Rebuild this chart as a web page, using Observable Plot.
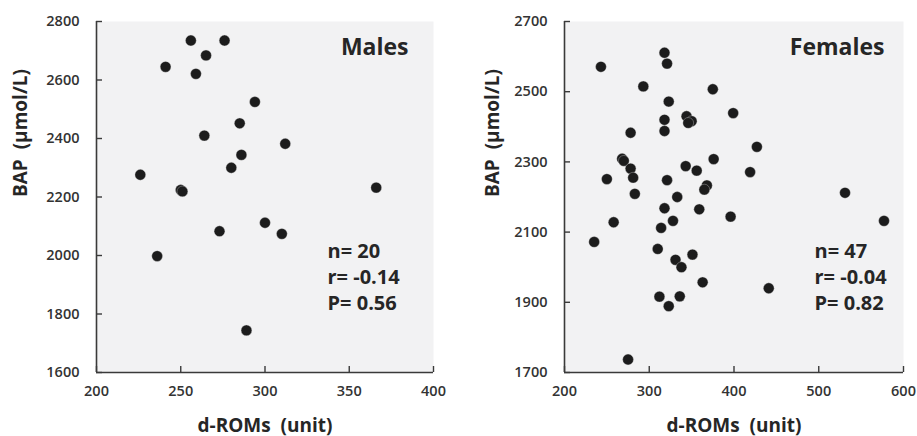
<!DOCTYPE html>
<html>
<head>
<meta charset="utf-8">
<script src="https://cdn.jsdelivr.net/npm/d3@7"></script>
<script src="https://cdn.jsdelivr.net/npm/@observablehq/plot@0.6"></script>
<style>
  body { margin: 0; background: #fff; }
  #row { display: flex; flex-direction: row; width: 917px; height: 436px; }
</style>
</head>
<body>
<div id="row"></div>
<script>
// ---- Data ----
const malesDROMs = [256, 276, 265, 241, 259, 294, 285, 264, 312, 286, 280, 226, 250, 251, 366, 300, 273, 310, 236, 289];
const malesBAP   = [2735, 2735, 2684, 2645, 2621, 2525, 2452, 2410, 2382, 2344, 2300, 2276, 2224, 2219, 2232, 2112, 2083, 2074, 1998, 1744];

const femalesDROMs = [243, 318, 321, 293, 375, 323, 399, 318, 344, 350, 346, 318, 278, 427, 268, 270, 376, 343, 278, 356, 419, 250, 281, 321, 368, 365, 283, 333, 531, 318, 359, 396, 258, 328, 577, 314, 235, 310, 351, 331, 338, 363, 441, 312, 336, 323, 275];
const femalesBAP   = [2571, 2611, 2580, 2515, 2507, 2472, 2439, 2420, 2430, 2416, 2411, 2388, 2383, 2343, 2309, 2303, 2308, 2288, 2281, 2275, 2271, 2251, 2255, 2248, 2233, 2221, 2209, 2200, 2212, 2168, 2165, 2144, 2128, 2132, 2132, 2112, 2072, 2052, 2036, 2021, 2000, 1957, 1940, 1916, 1917, 1889, 1737];

const malesXTicks = [200, 250, 300, 350, 400];
const malesYTicks = [1600, 1800, 2000, 2200, 2400, 2600, 2800];
const femalesXTicks = [200, 300, 400, 500, 600];
const femalesYTicks = [1700, 1900, 2100, 2300, 2500, 2700];

const malesTitle = "Males";
const femalesTitle = "Females";
const malesStats = ["n= 20", "r= -0.14", "P= 0.56"];
const femalesStats = ["n= 47", "r= -0.04", "P= 0.82"];
const xLabel = "d-ROMs\u00a0\u00a0(unit)";
const yLabel = "BAP\u00a0\u00a0(\u00b5mol/L)";

const FONT = "'Open Sans', 'DejaVu Sans', sans-serif";
const AXIS = "#3a3a3a";
const TEXT = "#333333";

function panel({xs, ys, xTicks, yTicks, title, stats, width, marginLeft, marginRight, titleDx, statsDx, yLabelDx}) {
  const pts = xs.map((x, i) => ({x, y: ys[i]}));
  const xDom = [xTicks[0], xTicks[xTicks.length - 1]];
  const yDom = [yTicks[0], yTicks[yTicks.length - 1]];
  return Plot.plot({
    width, height: 436,
    marginLeft, marginRight, marginTop: 21, marginBottom: 64,
    style: {fontFamily: FONT, background: "#fff", overflow: "visible"},
    x: {domain: xDom},
    y: {domain: yDom},
    marks: [
      Plot.frame({fill: "#f2f2f3", stroke: null}),
      Plot.ruleX([xDom[0]], {stroke: AXIS, strokeWidth: 1.6}),
      Plot.ruleY([yDom[0]], {stroke: AXIS, strokeWidth: 1.6}),
      Plot.axisX({ticks: xTicks, tickSize: -6, tickPadding: 19, stroke: AXIS, strokeWidth: 1.4,
        fontSize: 14.5, fontWeight: 600, fill: TEXT, label: null, tickFormat: d => String(d)}),
      Plot.axisY({ticks: yTicks, tickSize: -6, tickPadding: 23, stroke: AXIS, strokeWidth: 1.4,
        fontSize: 14.5, fontWeight: 600, fill: TEXT, label: null, tickFormat: d => String(d)}),
      Plot.dot(pts, {x: "x", y: "y", r: 5.4, fill: "#1c1c1c", stroke: "#d8d8d8", strokeWidth: 0.35}),
      Plot.text([title], {frameAnchor: "top-right", dx: titleDx, dy: 26, lineAnchor: "middle",
        fontSize: 23, fontWeight: 700, fill: "#262626"}),
      Plot.text([stats.join("\n")], {frameAnchor: "top-left", dx: statsDx, dy: 254, lineAnchor: "middle",
        textAnchor: "start", lineHeight: 1.32, fontSize: 20, fontWeight: 700, fill: "#262626"}),
      Plot.text([xLabel], {frameAnchor: "bottom", dy: 53, lineAnchor: "middle",
        fontSize: 19, fontWeight: 700, fill: "#262626"}),
      Plot.text([yLabel], {frameAnchor: "left", dx: yLabelDx, rotate: -90, lineAnchor: "middle",
        fontSize: 19, fontWeight: 700, fill: "#262626"})
    ]
  });
}

const row = document.getElementById("row");
row.append(panel({
  xs: malesDROMs, ys: malesBAP, xTicks: malesXTicks, yTicks: malesYTicks,
  title: malesTitle, stats: malesStats,
  width: 460, marginLeft: 96, marginRight: 27, titleDx: -25, statsDx: 231, yLabelDx: -76
}));
row.append(panel({
  xs: femalesDROMs, ys: femalesBAP, xTicks: femalesXTicks, yTicks: femalesYTicks,
  title: femalesTitle, stats: femalesStats,
  width: 457, marginLeft: 104, marginRight: 14, titleDx: -19, statsDx: 250, yLabelDx: -72
}));
</script>
</body>
</html>
